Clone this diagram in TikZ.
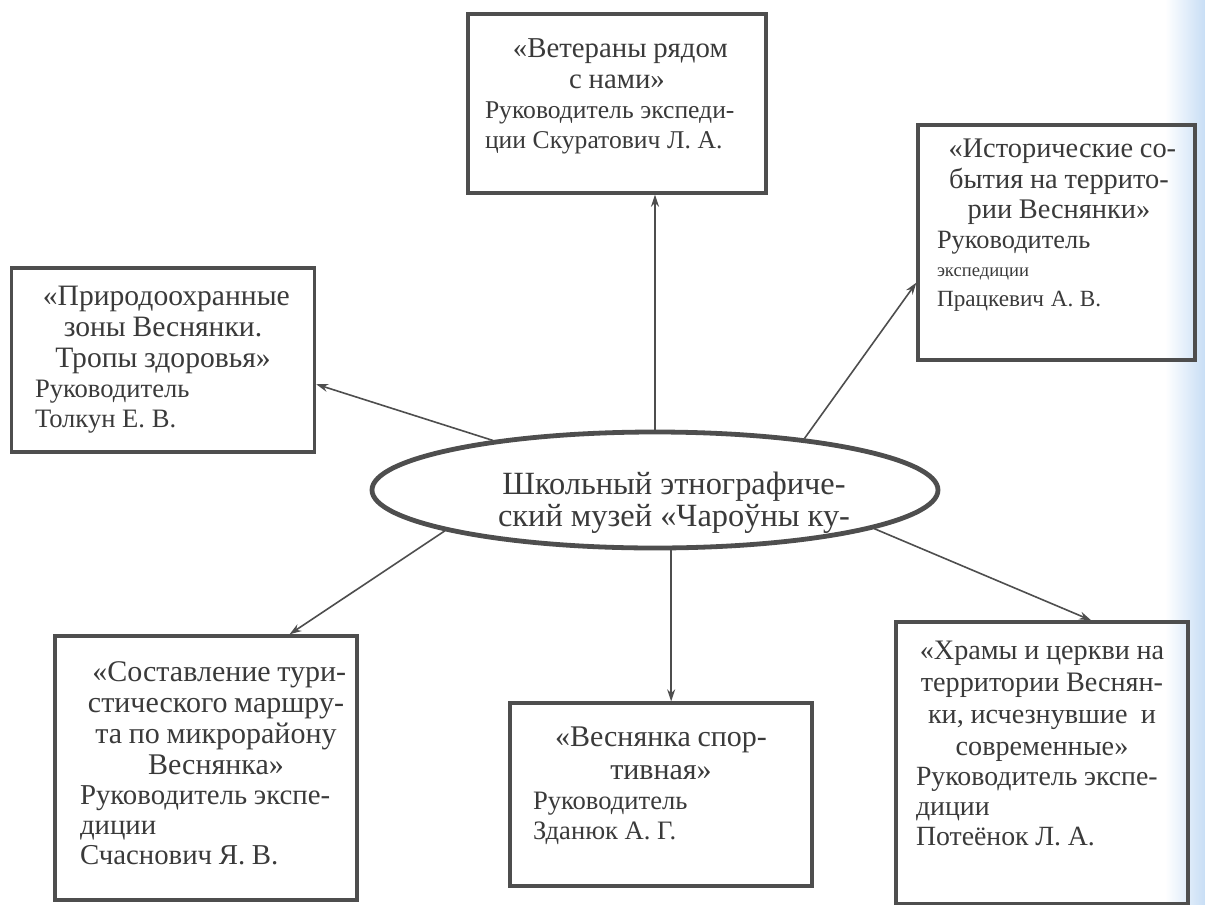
\documentclass[tikz,border=0pt]{standalone}
\usepackage{fontspec}
\setmainfont{Liberation Serif}
\usetikzlibrary{arrows.meta,shapes.geometric}
\definecolor{ink}{RGB}{58,58,58}
\definecolor{rule}{RGB}{78,78,78}
\definecolor{scan}{RGB}{200,222,245}
\newcommand{\ttl}[1]{\fontsize{#1}{15.5}\selectfont}
\newcommand{\ldr}[1]{\fontsize{#1}{15}\selectfont}
\setlength{\parindent}{0pt}

\begin{document}
\begin{tikzpicture}[
    x=0.5pt, y=-0.5pt,
    frame/.style={draw=rule, line width=1.7pt, inner sep=0pt},
    txt/.style={anchor=north, inner sep=0pt, text=ink, text width=#1},
    museumstyle/.style={ellipse, draw=rule, line width=2.4pt, inner sep=0pt},
    link/.style={draw=rule, line width=0.8pt, -{Stealth[length=6pt,width=4pt]}}
    ]
    \useasboundingbox (0,0) rectangle (1205,905);
    \fill[white] (0,0) rectangle (1205,905);
    \shade[left color=white, right color=scan] (1165,0) rectangle (1205,905);

    \node[museumstyle, minimum width=283pt, minimum height=58pt] (museum) at (655,490) {};
    \node[align=center, inner sep=0pt, text=ink, font=\fontsize{16.2}{16}\selectfont] (museum-t) at (674,503)
      {Школьный этнографиче-\\ский музей «Чароўны ку-};

    \node[frame, minimum width=149pt, minimum height=89.5pt] (vet) at (617,103.5) {};
    \node[txt=132pt] (vet-t) at (617,38) {{\centering\ttl{14.4} «Ветераны рядом\\с нами»\par}\raggedright\ldr{12.8}
      Руководитель экспеди-\\ции Скуратович Л.~А.\par};

    \node[frame, minimum width=138.5pt, minimum height=117.5pt] (hist) at (1056.5,242.5) {};
    \node[txt=122pt] (hist-t) at (1059,138) {{\centering\ttl{14.2} «Исторические со-\\бытия на террито-\\рии Веснянки»\par}\raggedright
      {\ldr{13.2} Руководитель\par}{\fontsize{9.3}{13.5}\selectfont экспедиции\par}{\ldr{11.6} Працкевич А.~В.\par}};

    \node[frame, minimum width=151.5pt, minimum height=92pt] (prir) at (163,360) {};
    \node[txt=128pt] (prir-t) at (163,286) {{\centering\ttl{14.8} «Природоохранные\\зоны Веснянки.\\Тропы здоровья»\par}\raggedright\ldr{13.3}
      Руководитель\\Толкун Е.~В.\par};

    \node[frame, minimum width=151pt, minimum height=132pt] (tur) at (206,768) {};
    \node[txt=136pt] (tur-t) at (216,661) {{\centering\ttl{15} «Составление тури-\\стического маршру-\\та по микрорайону\\Веснянка»\par}\raggedright\ldr{14.4}
      Руководитель экспе-\\диции\\Счаснович Я.~В.\par};

    \node[frame, minimum width=151pt, minimum height=91.5pt] (sport) at (661,794.5) {};
    \node[txt=128pt] (sport-t) at (661,726) {{\centering\fontsize{15}{16.5}\selectfont «Веснянка спор-\\тивная»\par}\raggedright\ldr{13.3}
      Руководитель\\Зданюк А.~Г.\par};

    \node[frame, minimum width=146pt, minimum height=141pt] (hram) at (1042,763) {};
    \node[txt=126pt] (hram-t) at (1042,641) {{\centering\fontsize{14.1}{16}\selectfont «Храмы и церкви на\\территории Веснян-\\ки, исчезнувшие~ и\\современные»\par}\raggedright\ldr{13.9}
      Руководитель экспе-\\диции\\Потеёнок Л.~А.\par};

    \draw[link] (museum.north) -- (museum.north |- vet.south);
    \draw[link] (museum.163) -- (prir.-9);
    \draw[link] (museum.19) -- (hist.196);
    \draw[link] (museum.191) -- (tur.58);
    \draw[link] (museum.285) -- (museum.285 |- sport.north);
    \draw[link] (museum.-10) -- (hram.71);
  \end{tikzpicture}
\end{document}
